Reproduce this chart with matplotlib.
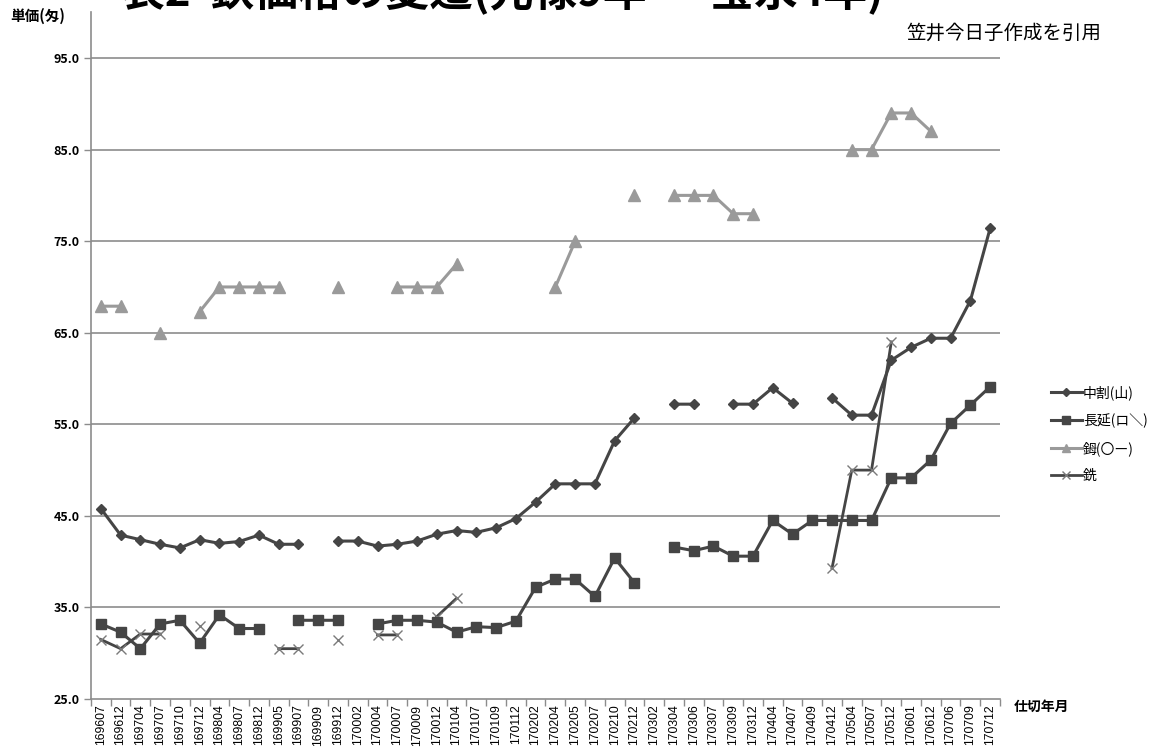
import numpy as np
import matplotlib
matplotlib.use("Agg")
import matplotlib.pyplot as plt
from matplotlib.ticker import FixedLocator, FormatStrFormatter

plt.rcParams['font.family'] = ['Noto Sans CJK JP', 'DejaVu Sans']

nan = np.nan

# 仕切年月 (年4桁+月2桁)
periods = ['169607', '169612', '169704', '169707', '169710', '169712', '169804', '169807',
           '169812', '169905', '169907', '169909', '169912', '170002', '170004', '170007',
           '170009', '170012', '170104', '170107', '170109', '170112', '170202', '170204',
           '170205', '170207', '170210', '170212', '170302', '170304', '170306', '170307',
           '170309', '170312', '170404', '170407', '170409', '170412', '170504', '170507',
           '170512', '170601', '170612', '170706', '170709', '170712']

# 単価(匁)
nakawari = [45.8, 42.9, 42.4, 41.9, 41.5, 42.4, 42.0, 42.2, 42.9, 41.9, 41.9, nan,
            42.25, 42.25, 41.7, 41.9, 42.25, 43.0, 43.4, 43.2, 43.7, 44.7, 46.5, 48.5,
            48.5, 48.5, 53.2, 55.7, nan, 57.2, 57.2, nan, 57.2, 57.2, 59.0, 57.3,
            nan, 57.9, 56.0, 56.0, 62.0, 63.4, 64.4, 64.4, 68.5, 76.4]
chouen = [33.2, 32.3, 30.5, 33.2, 33.6, 31.1, 34.2, 32.7, 32.7, nan, 33.6, 33.6,
          33.6, nan, 33.2, 33.6, 33.6, 33.4, 32.3, 32.9, 32.8, 33.5, 37.2, 38.1,
          38.1, 36.2, 40.4, 37.7, nan, 41.6, 41.2, 41.7, 40.6, 40.6, 44.5, 43.0,
          44.5, 44.5, 44.5, 44.5, 49.15, 49.15, 51.1, 55.1, 57.1, 59.1]
kera = [67.9, 67.9, nan, 65.0, nan, 67.3, 70, 70, 70, 70, nan, nan,
        70, nan, nan, 70, 70, 70, 72.5, nan, nan, nan, nan, 70,
        75, nan, nan, 80, nan, 80, 80, 80, 78, 78, nan, nan,
        nan, nan, 85, 85, 89, 89, 87, nan, nan, nan]
zuku = [31.5, 30.5, 32.1, 32.1, nan, 33.0, nan, nan, nan, 30.5, 30.5, nan,
        31.4, nan, 32.0, 32.0, nan, 34.0, 36.0, nan, nan, nan, nan, nan,
        nan, nan, nan, nan, nan, nan, nan, nan, nan, nan, nan, nan,
        nan, 39.3, 50.0, 50.0, 64.0, nan, nan, nan, nan, nan]

dark = '#454545'
light = '#9a9a9a'
gridc = '#8c8c8c'

fig = plt.figure(figsize=(11.53, 7.51), dpi=100)
ax = fig.add_axes([0.0789, 0.0692, 0.7884, 0.9145])

x = np.arange(len(periods))
ax.plot(x, nakawari, color=dark, lw=2.2, marker='D', ms=5, label='中割(山)', zorder=4)
ax.plot(x, chouen, color=dark, lw=2.2, marker='s', ms=7.5, label='長延(ロ＼)', zorder=4)
ax.plot(x, kera, color=light, lw=2.2, marker='^', ms=8, label='鉧(〇ー)', zorder=4)
ax.plot(x, zuku, color=dark, lw=2.0, marker='x', ms=7.5, mec='#7a7a7a', mew=1.0,
        label='銑', zorder=3)

ax.set_xlim(-0.5, len(periods) - 0.5)
ax.set_ylim(25, 100)
ax.set_yticks(np.arange(25, 96, 10))
ax.yaxis.set_major_formatter(FormatStrFormatter('%.1f'))
for yv in np.arange(35, 96, 10):
    ax.axhline(yv, color=gridc, lw=1.2, zorder=1)

ax.set_xticks(x)
ax.set_xticklabels(periods, rotation=90, fontsize=8.8, family='Liberation Sans')
ax.xaxis.set_minor_locator(FixedLocator(np.arange(-0.5, len(periods), 1)))
ax.tick_params(axis='x', which='major', length=0, pad=4)
ax.tick_params(axis='x', which='minor', length=5, color=gridc, width=1)
ax.tick_params(axis='y', length=5, color=gridc, width=1, pad=3)
for t in ax.get_yticklabels():
    t.set_fontweight('bold')
    t.set_fontsize(9)

for s in ['top', 'right']:
    ax.spines[s].set_visible(False)
for s in ['left', 'bottom']:
    ax.spines[s].set_color(gridc)
    ax.spines[s].set_linewidth(1.2)

# 表題 (上端で切れている)
fig.text(0.105, 1 - 5 / 751, '表2  鉄価格の変遷(元禄9年 ー 宝永4年)', fontsize=31.5,
         fontweight='bold', va='baseline', ha='left')
fig.text(906 / 1153, 1 - 33 / 751, '笠井今日子作成を引用', fontsize=14, va='center', ha='left')
fig.text(10 / 1153, 1 - 16 / 751, '単価(匁)', fontsize=10.5, fontweight='bold', va='center', ha='left')
fig.text(1014 / 1153, 1 - 707 / 751, '仕切年月', fontsize=10, fontweight='bold', va='center', ha='left')

ax.legend(loc='center left', bbox_to_anchor=(1044 / 1153, 1 - 434 / 751),
          bbox_transform=fig.transFigure, frameon=False, fontsize=10,
          handlelength=2.2, handletextpad=0.1, labelspacing=0.95, borderpad=0,
          markerscale=0.8)

fig.savefig('out.png', dpi=100)
